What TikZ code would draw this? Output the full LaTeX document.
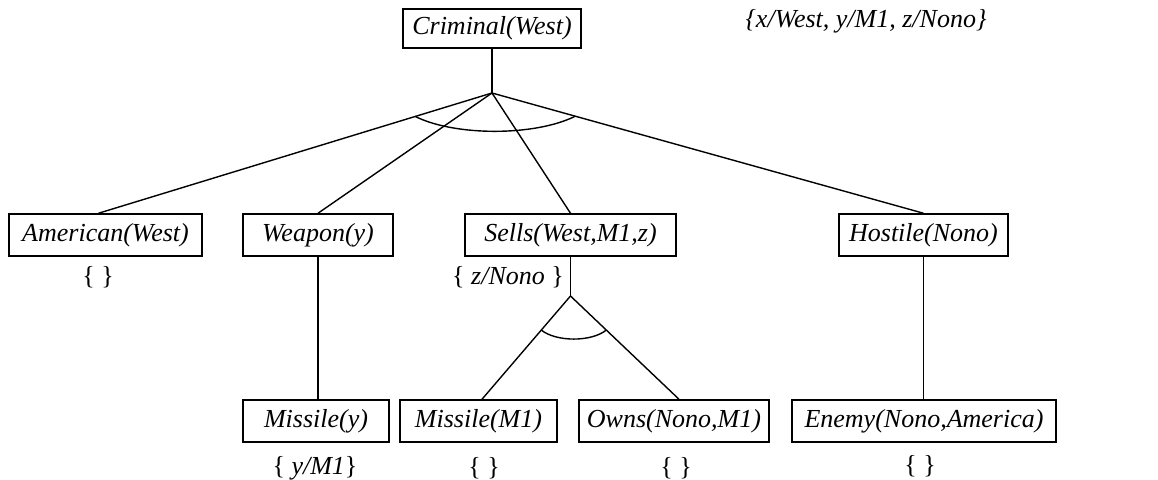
\documentclass[tikz,border=0pt]{standalone}
\usepackage{fontspec}
\setmainfont{Liberation Serif}
\usetikzlibrary{calc}
\begin{document}
\begin{tikzpicture}[x=0.5pt,y=-0.5pt,
  lit/.style={draw, line width=0.75pt, inner sep=0pt, minimum height=21pt,
    font=\fontsize{13}{15}\selectfont\itshape},
  sub/.style={inner sep=0pt, font=\fontsize{13}{15}\selectfont},
  conn/.style={line width=0.7pt}]
\useasboundingbox (0,0) rectangle (1158,480);
% nodes
\node[lit, minimum width=89pt, minimum height=19.5pt] (crim) at (492,28.5) {Criminal(West)};
\node[sub, font=\fontsize{13}{15}\selectfont\itshape] (theta) at (866,21) {\{x/West, y/M1, z/Nono\}};
\node[lit, minimum width=96.5pt] (amer) at (105.5,235) {American(West)};
\node[lit, minimum width=75pt] (weap) at (318,235) {Weapon(y)};
\node[lit, minimum width=105.5pt] (sells) at (570.5,235) {Sells(West,M1,z)};
\node[lit, minimum width=84.5pt] (host) at (923.5,235) {Hostile(Nono)};
\node[lit, minimum width=73pt] (missy) at (316,421) {Missile(y)};
\node[lit, minimum width=78.5pt] (missm) at (478.5,421) {Missile(M1)};
\node[lit, minimum width=95pt] (owns) at (674,421) {Owns(Nono,M1)};
\node[lit, minimum width=132pt] (enemy) at (924,421) {Enemy(Nono,America)};
% substitution labels
\node[sub] (samer) at (98,277) {\{ \}};
\node[sub] (ssells) at (508,277) {\{ \textit{z/Nono} \}};
\node[sub] (smissy) at (315,468) {\{ \textit{y/M1}\}};
\node[sub] (smissm) at (484,468) {\{ \}};
\node[sub] (sowns) at (676,468) {\{ \}};
\node[sub] (senemy) at (920,466) {\{ \}};
% connectors
\coordinate (apex) at (492,93);
\coordinate (apex2) at (570.5,296);
\draw[conn] (crim.south) -- (apex);
\draw[conn] (apex) -- ([xshift=-3.5pt]amer.north);
\draw[conn] (apex) -- (weap.north);
\draw[conn] (apex) -- (sells.north);
\draw[conn] (apex) -- (host.north);
\draw[conn] (weap.south) -- (weap.south |- missy.north);
\draw[conn] (sells.south) -- (apex2);
\draw[conn] (apex2) -- ([xshift=1.75pt]missm.north);
\draw[conn] (apex2) -- ([xshift=2.5pt]owns.north);
\draw[conn] (host.south) -- (host.south |- enemy.north);
% and-arcs
\coordinate (a1) at ($(apex)!0.195!([xshift=-3.5pt]amer.north)$);
\coordinate (a2) at ($(apex)!0.193!(host.north)$);
\draw[conn] (a1) .. controls ($(a1)+(40,20)$) and ($(a2)+(-40,20)$) .. (a2);
\coordinate (b1) at ($(apex2)!0.33!([xshift=1.75pt]missm.north)$);
\coordinate (b2) at ($(apex2)!0.33!([xshift=2.5pt]owns.north)$);
\draw[conn] (b1) .. controls ($(b1)+(15,12)$) and ($(b2)+(-15,12)$) .. (b2);
\end{tikzpicture}
\end{document}
